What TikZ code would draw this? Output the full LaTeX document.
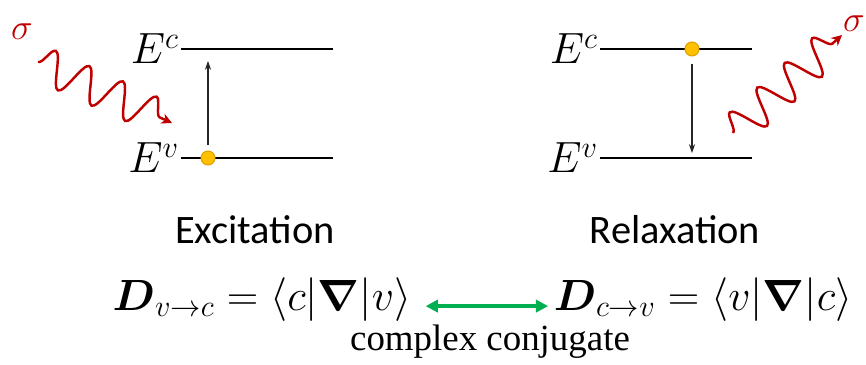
\documentclass[tikz,border=0pt]{standalone}
\usepackage{amsmath}
\usepackage{fontspec}
\usepackage{tikz}
\usetikzlibrary{arrows.meta,positioning,decorations.pathmorphing}
\newfontfamily\captionfont{Carlito}
\newfontfamily\notefont{Liberation Serif}
\definecolor{photonred}{HTML}{C00000}
\definecolor{conjgreen}{HTML}{00B050}
\definecolor{dotfill}{HTML}{FFC000}
\definecolor{dotdraw}{HTML}{E0A000}

\begin{document}
\begin{tikzpicture}[
            x=0.02cm, y=-0.02cm,
            level/.style={line width=1.1pt, black},
            levlabel/.style={left, inner sep=1pt, font=\fontsize{24}{28}\selectfont},
            electron/.style={circle, draw=dotdraw, fill=dotfill, line width=0.6pt,
                    minimum size=14*0.567pt, inner sep=0pt},
            trans/.style={-{Stealth[length=5pt,width=3.5pt]}, line width=0.6pt, black!85},
            photon/.style={
                    decorate, photonred, line width=1.4pt,
                    decoration={snake, segment length=21pt, amplitude=10pt, post length=6pt},
                    -{Stealth[length=6pt,width=6pt]}
                },
            sigma/.style={text=photonred, font=\fontsize{22}{26}\selectfont},
            caption/.style={font=\captionfont\fontsize{23}{28}\selectfont},
            formula/.style={anchor=base, inner sep=0pt, font=\fontsize{24}{28}\selectfont},
            conj/.style={{Triangle[length=7pt,width=7pt]}-{Triangle[length=7pt,width=7pt]},
                    line width=2.3pt, conjgreen}
            ]
            \useasboundingbox (0,0) rectangle (866,365);

            % excitation
            \coordinate (cL1) at (181,49);
            \coordinate (cL2) at (333,49);
            \coordinate (vL1) at (181,158);
            \coordinate (vL2) at (333,158);
            \draw[level] (cL1) -- (cL2);
            \draw[level] (vL1) -- (vL2);
            \node[levlabel] (EcL) at (cL1) {$E^c$};
            \node[levlabel] (EvL) at (vL1) {$E^v$};
            \node[electron] (eL) at (208,158) {};
            \coordinate (upL) at (208,61);
            \draw[trans] ([yshift=3pt]eL.north) -- (upL);
            \coordinate (inA) at (38,62);
            \coordinate (inB) at (172,123);
            \draw[photon] (inA) -- (inB);
            \node[sigma] (sigL) at (22,32) {$\sigma$};
            \node[caption] (exc) at (255,230) {Excitation};

            % relaxation
            \coordinate (cR1) at (600,49);
            \coordinate (cR2) at (752,49);
            \coordinate (vR1) at (600,158);
            \coordinate (vR2) at (752,158);
            \draw[level] (cR1) -- (cR2);
            \draw[level] (vR1) -- (vR2);
            \node[levlabel] (EcR) at (cR1) {$E^c$};
            \node[levlabel] (EvR) at (vR1) {$E^v$};
            \node[electron] (eR) at (692,49) {};
            \coordinate (dnR) at (692,153);
            \draw[trans] ([yshift=-4pt]eR.south) -- (dnR);
            \coordinate (outA) at (733,133);
            \coordinate (outB) at (842,35);
            \draw[photon] (outA) -- (outB);
            \node[sigma] (sigR) at (854,24) {$\sigma$};
            \node[caption] (rel) at (675,230) {Relaxation};

            % dipole elements
            \node[formula] (Dvc) at (262,310)
            {$\boldsymbol{D}_{v\to c} = \langle c|\boldsymbol{\nabla}|v\rangle$};
            \node[formula] (Dcv) at (703,310)
            {$\boldsymbol{D}_{c\to v} = \langle v|\boldsymbol{\nabla}|c\rangle$};
            \draw[conj] ([xshift=8pt,yshift=-4pt]Dvc.east) -- ([xshift=-3pt,yshift=-4pt]Dcv.west);
            \node[font=\notefont\fontsize{21}{25}\selectfont, text=black] (cc) at (490,342) {complex conjugate};
        \end{tikzpicture}
\end{document}
